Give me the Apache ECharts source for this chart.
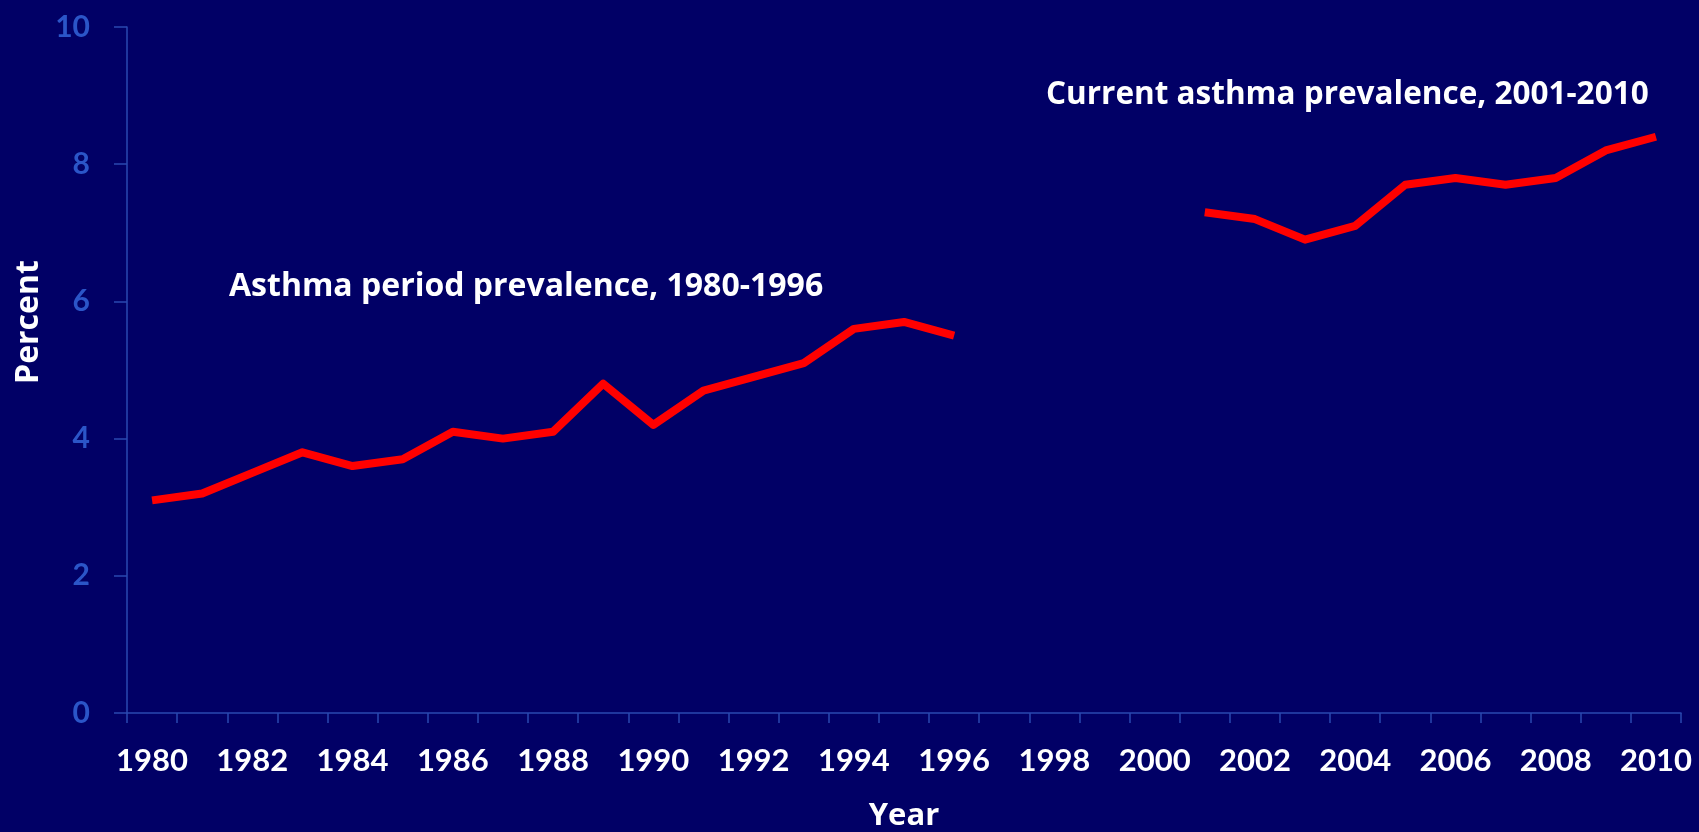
<!DOCTYPE html>
<html>
<head>
<meta charset="utf-8">
<script src="https://cdn.jsdelivr.net/npm/echarts@6/dist/echarts.min.js"></script>
<style>
html,body{margin:0;padding:0;background:#010066;}
#chart{width:1699px;height:832px;}
</style>
</head>
<body>
<div id="chart"></div>
<script>
const years = ['1980','1981','1982','1983','1984','1985','1986','1987','1988','1989','1990','1991','1992','1993','1994','1995','1996','1997','1998','1999','2000','2001','2002','2003','2004','2005','2006','2007','2008','2009','2010'];
const periodPrevalence = [3.1,3.2,3.5,3.8,3.6,3.7,4.1,4.0,4.1,4.8,4.2,4.7,4.9,5.1,5.6,5.7,5.5,null,null,null,null,null,null,null,null,null,null,null,null,null,null];
const currentPrevalence = [null,null,null,null,null,null,null,null,null,null,null,null,null,null,null,null,null,null,null,null,null,7.3,7.2,6.9,7.1,7.7,7.8,7.7,7.8,8.2,8.4];
const yTicks = [0,2,4,6,8,10];
const labelPeriod = 'Asthma period prevalence, 1980-1996';
const labelCurrent = 'Current asthma prevalence, 2001-2010';

const FONT = 'Lato';
const FONT2 = '"Open Sans"';
const axisColor = '#2a48b0';
const chart = echarts.init(document.getElementById('chart'), null, {renderer:'canvas'});
chart.setOption({
  backgroundColor: '#010066',
  animation: false,
  grid: {left:127, top:27, right:18, bottom:119, containLabel:false, outerBoundsMode:'none'},
  xAxis: {
    type:'category',
    data: years,
    boundaryGap: true,
    name: 'Year',
    nameLocation: 'middle',
    nameGap: 88,
    nameTextStyle: {color:'#ffffff', fontFamily:'Open Sans', fontWeight:'bold', fontSize:31},
    axisLine: {show:true, lineStyle:{color:axisColor, width:1.5}},
    axisTick: {show:true, interval:0, length:10, lineStyle:{color:axisColor, width:1.5}},
    axisLabel: {interval:1, margin:32, color:'#ffffff', fontFamily:FONT, fontWeight:'bold', fontSize:31},
    splitLine: {show:false}
  },
  yAxis: {
    type:'value',
    min: yTicks[0], max: yTicks[yTicks.length-1], interval: 2,
    axisLine: {show:true, lineStyle:{color:axisColor, width:1.5}},
    axisTick: {show:true, length:13, lineStyle:{color:axisColor, width:1.5}},
    axisLabel: {margin:37, color:'#2b55c8', fontFamily:FONT, fontWeight:'bold', fontSize:30},
    splitLine: {show:false}
  },
  series: [
    {type:'line', data: periodPrevalence, showSymbol:false, connectNulls:false,
     lineStyle:{color:'#ff0000', width:8, join:'round'}, itemStyle:{color:'#ff0000'}},
    {type:'line', data: currentPrevalence, showSymbol:false, connectNulls:false,
     lineStyle:{color:'#ff0000', width:8, join:'round'}, itemStyle:{color:'#ff0000'}}
  ],
  graphic: [
    {type:'text', x:29, y:322, rotation:Math.PI/2,
     style:{text:'Percent', fill:'#ffffff', font:'bold 32px '+FONT2, textAlign:'center', textVerticalAlign:'middle'}},
    {type:'text', x:229, y:287,
     style:{text:labelPeriod, fill:'#ffffff', font:'bold 32px '+FONT2, textAlign:'left', textVerticalAlign:'middle'}},
    {type:'text', x:1046, y:95,
     style:{text:labelCurrent, fill:'#ffffff', font:'bold 31.5px '+FONT2, textAlign:'left', textVerticalAlign:'middle'}}
  ]
});
</script>
</body>
</html>
